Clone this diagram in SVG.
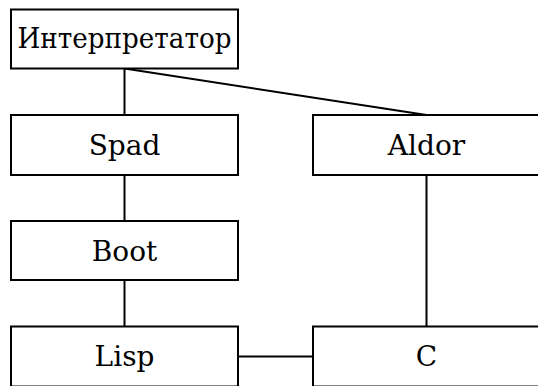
<svg xmlns="http://www.w3.org/2000/svg" width="538" height="386" viewBox="0 0 538 386">
<style>
rect{fill:#fff;stroke:#000;stroke-width:2}
line{stroke:#000;stroke-width:2}
text{font-family:"DejaVu Serif","Liberation Serif",serif;font-size:28px;text-anchor:middle;fill:#000}
</style>
<rect x="0" y="0" width="538" height="386" style="stroke:none"/>
<g id="connectors">
<line x1="124.5" y1="68.5" x2="124.5" y2="115"/>
<line x1="124.5" y1="68.5" x2="426.5" y2="115"/>
<line x1="124.5" y1="175" x2="124.5" y2="221"/>
<line x1="124.5" y1="280" x2="124.5" y2="326.5"/>
<line x1="426.5" y1="175" x2="426.5" y2="326.5"/>
<line x1="238" y1="356.5" x2="313" y2="356.5"/>
</g>
<g id="interp"><rect x="11" y="9.5" width="227" height="59"/><text x="124.5" y="48" textLength="214" lengthAdjust="spacingAndGlyphs">Интерпретатор</text></g>
<g id="spad"><rect x="11" y="115" width="227" height="60"/><text x="124.5" y="155">Spad</text></g>
<g id="aldor"><rect x="313" y="115" width="227" height="60"/><text x="426.5" y="155">Aldor</text></g>
<g id="boot"><rect x="11" y="221" width="227" height="59"/><text x="124.5" y="261">Boot</text></g>
<g id="lisp"><rect x="11" y="326.5" width="227" height="60"/><text x="124.5" y="366">Lisp</text></g>
<g id="c"><rect x="313" y="326.5" width="227" height="60"/><text x="426.5" y="366">C</text></g>
</svg>
